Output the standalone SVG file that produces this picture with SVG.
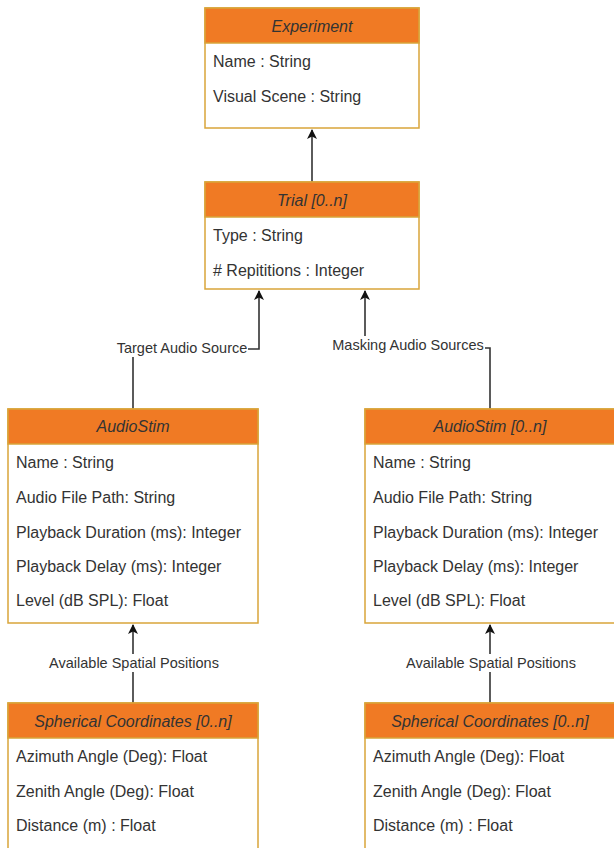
<svg xmlns="http://www.w3.org/2000/svg" width="614" height="848" viewBox="0 0 614 848">
<style>
.box{fill:#ffffff;stroke:#d9a53a;stroke-width:1.5}
.hdr{fill:#f07a24;stroke:#d9a53a;stroke-width:1.5}
.ht{font-family:"Liberation Sans",Arial,sans-serif;font-size:16px;font-style:italic;fill:#333333;text-anchor:middle}
.t{font-family:"Liberation Sans",Arial,sans-serif;font-size:16px;fill:#333333}
.lbl{font-family:"Liberation Sans",Arial,sans-serif;font-size:14.5px;fill:#333333;text-anchor:middle}
.edge{fill:none;stroke:#333333;stroke-width:1.6}
</style>
<defs>
<marker id="arr" viewBox="0 0 10 10" refX="9" refY="5" markerWidth="10" markerHeight="10" markerUnits="userSpaceOnUse" orient="auto">
<path d="M0,0 L10,5 L0,10 L2.5,5 z" fill="#111111"/>
</marker>
</defs>
<rect width="614" height="848" fill="#ffffff"/>

<g id="connectors">
<path class="edge" d="M312,182 L312,130" marker-end="url(#arr)"/>
<path class="edge" d="M133,409 L133,349 L259,349 L259,291" marker-end="url(#arr)"/>
<path class="edge" d="M490,409 L490,348 L365,348 L365,291" marker-end="url(#arr)"/>
<path class="edge" d="M133,703 L133,625" marker-end="url(#arr)"/>
<path class="edge" d="M490,703 L490,625" marker-end="url(#arr)"/>
<rect x="115" y="339" width="133" height="18" fill="#ffffff"/>
<text class="lbl" x="182" y="353">Target Audio Source</text>
<rect x="331" y="336" width="154" height="18" fill="#ffffff"/>
<text class="lbl" x="408" y="350">Masking Audio Sources</text>
<rect x="47" y="654" width="174" height="18" fill="#ffffff"/>
<text class="lbl" x="134" y="668">Available Spatial Positions</text>
<rect x="404" y="654" width="174" height="18" fill="#ffffff"/>
<text class="lbl" x="491" y="668">Available Spatial Positions</text>
</g>

<g id="experiment">
<rect class="box" x="205" y="8" width="214" height="120"/>
<rect class="hdr" x="205" y="8" width="214" height="35"/>
<text class="ht" x="312" y="32">Experiment</text>
<text class="t" x="213" y="67">Name : String</text>
<text class="t" x="213" y="102">Visual Scene : String</text>
</g>

<g id="trial">
<rect class="box" x="205" y="182" width="214" height="107"/>
<rect class="hdr" x="205" y="182" width="214" height="35"/>
<text class="ht" x="312" y="206">Trial [0..n]</text>
<text class="t" x="213" y="241">Type : String</text>
<text class="t" x="213" y="276"># Repititions : Integer</text>
</g>

<g id="audiostim-target">
<rect class="box" x="8" y="409" width="250" height="214"/>
<rect class="hdr" x="8" y="409" width="250" height="35"/>
<text class="ht" x="133" y="432">AudioStim</text>
<text class="t" x="16" y="468">Name : String</text>
<text class="t" x="16" y="503">Audio File Path: String</text>
<text class="t" x="16" y="538">Playback Duration (ms): Integer</text>
<text class="t" x="16" y="572">Playback Delay (ms): Integer</text>
<text class="t" x="16" y="606">Level (dB SPL): Float</text>
</g>

<g id="audiostim-masking">
<rect class="box" x="365" y="409" width="250" height="214"/>
<rect class="hdr" x="365" y="409" width="250" height="35"/>
<text class="ht" x="490" y="432">AudioStim [0..n]</text>
<text class="t" x="373" y="468">Name : String</text>
<text class="t" x="373" y="503">Audio File Path: String</text>
<text class="t" x="373" y="538">Playback Duration (ms): Integer</text>
<text class="t" x="373" y="572">Playback Delay (ms): Integer</text>
<text class="t" x="373" y="606">Level (dB SPL): Float</text>
</g>

<g id="spherical-target">
<rect class="box" x="8" y="703" width="250" height="160"/>
<rect class="hdr" x="8" y="703" width="250" height="35"/>
<text class="ht" x="133" y="727">Spherical Coordinates [0..n]</text>
<text class="t" x="16" y="762">Azimuth Angle (Deg): Float</text>
<text class="t" x="16" y="797">Zenith Angle (Deg): Float</text>
<text class="t" x="16" y="831">Distance (m) : Float</text>
</g>

<g id="spherical-masking">
<rect class="box" x="365" y="703" width="250" height="160"/>
<rect class="hdr" x="365" y="703" width="250" height="35"/>
<text class="ht" x="490" y="727">Spherical Coordinates [0..n]</text>
<text class="t" x="373" y="762">Azimuth Angle (Deg): Float</text>
<text class="t" x="373" y="797">Zenith Angle (Deg): Float</text>
<text class="t" x="373" y="831">Distance (m) : Float</text>
</g>
</svg>
